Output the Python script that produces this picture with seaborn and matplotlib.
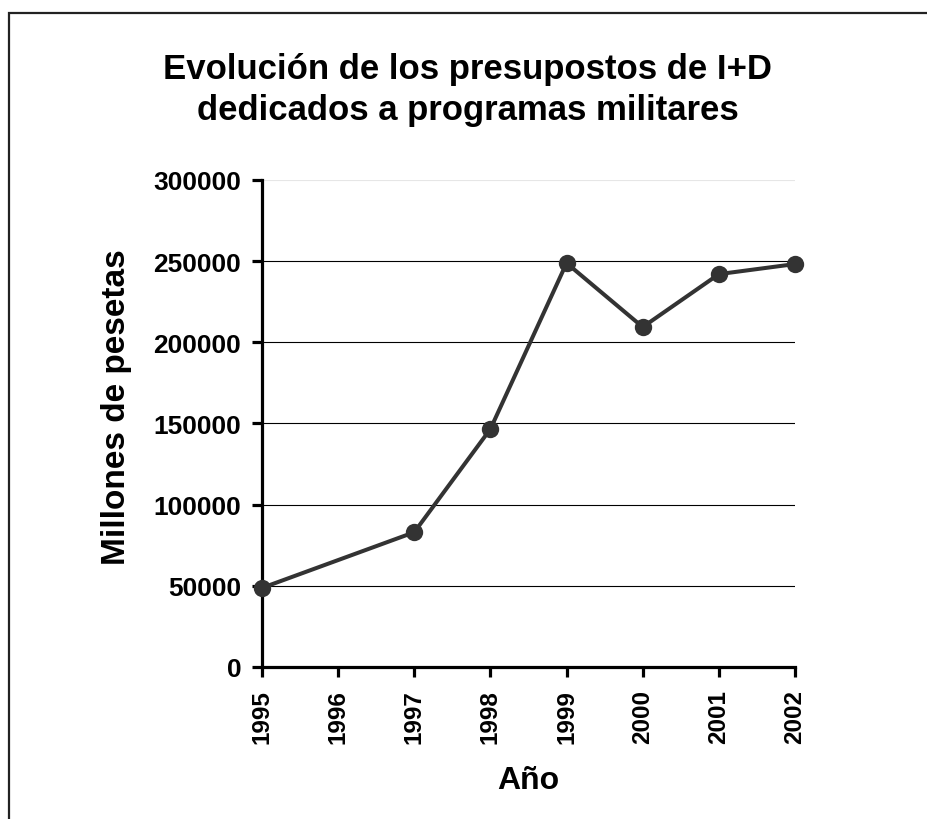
import matplotlib
matplotlib.use('Agg')
import matplotlib.pyplot as plt
import seaborn as sns
import pandas as pd
from matplotlib.patches import Rectangle

years = [1995, 1997, 1998, 1999, 2000, 2001, 2002]
presupuesto = [48700, 83000, 146600, 248800, 209400, 242000, 248200]
xticks = [1995, 1996, 1997, 1998, 1999, 2000, 2001, 2002]
yticks = [0, 50000, 100000, 150000, 200000, 250000, 300000]

sns.set_style('white')
plt.rcParams['font.family'] = ['Liberation Sans', 'DejaVu Sans']
plt.rcParams['font.weight'] = 'bold'
plt.rcParams['text.color'] = 'black'
plt.rcParams['axes.labelcolor'] = 'black'
plt.rcParams['xtick.color'] = 'black'
plt.rcParams['ytick.color'] = 'black'

df = pd.DataFrame({'Año': years, 'Millones de pesetas': presupuesto})

fig = plt.figure(figsize=(9.28, 8.2), dpi=100)
ax = fig.add_axes([0.2823, 0.1854, 0.8567 - 0.2823, 0.7793 - 0.1854])

sns.lineplot(data=df, x='Año', y='Millones de pesetas', ax=ax, color='#333333',
             linewidth=2.9, marker='o', markersize=12.5, markeredgewidth=0,
             clip_on=False, zorder=5)

ax.set_xlim(1995, 2002)
ax.set_ylim(0, 300000)
ax.set_xticks(xticks)
ax.set_yticks(yticks)
ax.set_xticklabels([str(t) for t in xticks], rotation=90, fontsize=17.5, fontweight='bold')
ax.set_yticklabels([str(t) for t in yticks], fontsize=19, fontweight='bold')

ax.grid(axis='y', color='black', linewidth=0.8)
ax.get_ygridlines()[-1].set_color('#e6e6e6')
ax.get_ygridlines()[0].set_visible(False)

for side in ['top', 'right']:
    ax.spines[side].set_visible(False)
for side in ['left', 'bottom']:
    ax.spines[side].set_color('black')
    ax.spines[side].set_linewidth(2.3)
ax.tick_params(axis='both', direction='out', length=7, width=2.3, color='black',
               bottom=True, left=True)
ax.tick_params(axis='y', pad=8)
ax.tick_params(axis='x', pad=9)

ax.set_xlabel('Año', fontsize=23, fontweight='bold', labelpad=16)
ax.set_ylabel('Millones de pesetas', fontsize=24, fontweight='bold')
ax.yaxis.set_label_coords(-0.243, 0.536)

fig.text(0.504, 0.890, 'Evolución de los presupostos de I+D\ndedicados a programas militares',
         ha='center', va='center', fontsize=25, fontweight='bold', linespacing=1.3)

fig.patches.append(Rectangle((9.5 / 928, -0.1), 1.2, (820 - 13.5) / 820 + 0.1,
                             transform=fig.transFigure, fill=False,
                             edgecolor='#222222', linewidth=1.6))

fig.savefig('out.png', dpi=100)
